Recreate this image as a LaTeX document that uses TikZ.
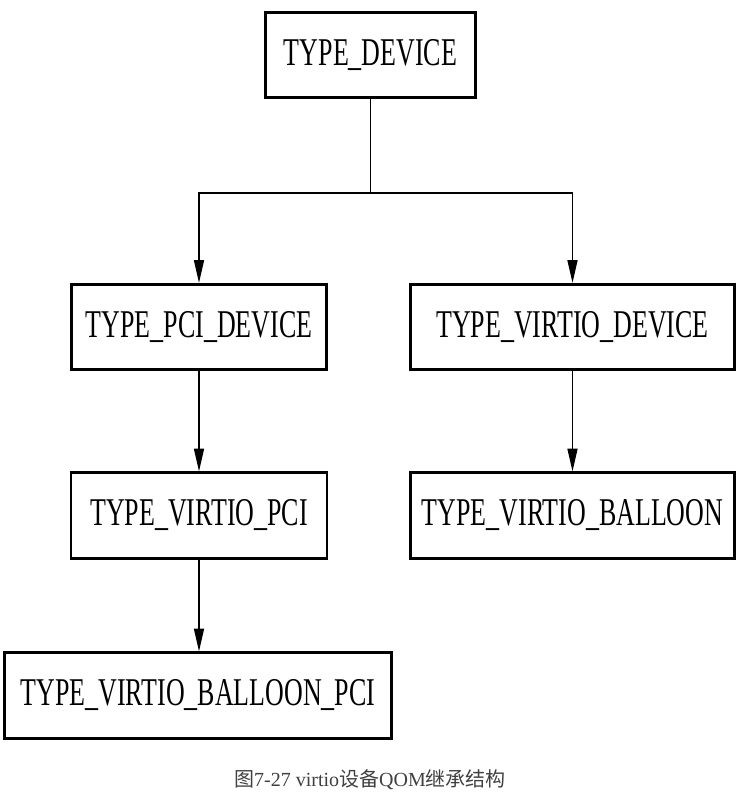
\documentclass[tikz,border=0pt]{standalone}
\usepackage{fontspec}
\setmainfont{Liberation Serif}
\newfontfamily\boxfont{Liberation Serif}[FakeStretch=0.66]
\newfontfamily\cjk{Noto Sans CJK SC}
\usetikzlibrary{arrows.meta}
\tikzset{
  typebox/.style={draw, line width=2.2pt, inner sep=0pt, minimum height=64pt,
    font=\boxfont\fontsize{29.5}{32}\selectfont},
  inherit/.style={line width=1pt, -{Triangle[length=17pt,width=7.5pt]}},
}
\begin{document}
\begin{tikzpicture}[x=0.75pt,y=-0.75pt]
\useasboundingbox (0,0) rectangle (744,793);
\node[typebox, minimum width=157pt] (dev) at (370.5,55) {TYPE\_DEVICE};
\node[typebox, minimum width=191pt] (pcidev) at (199,327) {TYPE\_PCI\_DEVICE};
\node[typebox, minimum width=243pt] (vdev) at (572.5,327) {TYPE\_VIRTIO\_DEVICE};
\node[typebox, minimum width=192pt] (vpci) at (199,515.5) {TYPE\_VIRTIO\_PCI};
\node[typebox, minimum width=243pt] (vballoon) at (572.5,515.5) {TYPE\_VIRTIO\_BALLOON};
\node[typebox, minimum width=290pt] (vbpci) at (198,695.5) {TYPE\_VIRTIO\_BALLOON\_PCI};
\coordinate (bus) at (0,193);
% tree branches
\draw[line width=1pt] (dev.south) -- (dev.south |- bus);
\draw[inherit] (dev.south |- bus) -| (pcidev.north);
\draw[inherit] (dev.south |- bus) -| (vdev.north);
\draw[inherit] (pcidev.south) -- (vpci.north);
\draw[inherit] (vdev.south) -- (vballoon.north);
\draw[inherit] (vpci.south) -- (vpci.south |- vbpci.north);
\node[text=black!75, font=\fontsize{15}{17}\selectfont] (caption) at (370,780)
  {{\cjk 图}7-27 virtio{\cjk 设备}QOM{\cjk 继承结构}};
\end{tikzpicture}
\end{document}
